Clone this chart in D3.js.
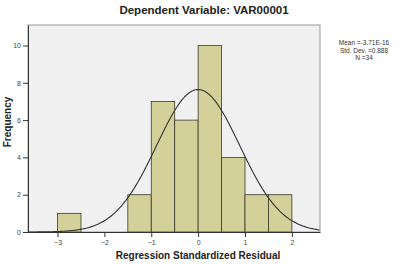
<!DOCTYPE html>
<html>
<head>
<meta charset="utf-8">
<script src="https://d3js.org/d3.v7.min.js"></script>
<style>
  body { margin: 0; background: #fff; }
  text { font-family: "Liberation Sans", Arial, sans-serif; }
</style>
</head>
<body>
<div id="chart"></div>
<script>
// histogram bins (lower edge) and counts
const binStarts = [-3, -2.5, -2, -1.5, -1, -0.5, 0, 0.5, 1, 1.5];
const counts = [1, 0, 0, 2, 7, 6, 10, 4, 2, 2];
const binWidth = 0.5;
const xTicks = [-3, -2, -1, 0, 1, 2];
const yTicks = [0, 2, 4, 6, 8, 10];
const statLines = ["Mean =-3.71E-16", "Std. Dev. =0.888", "N =34"];
const mean = -3.71e-16, sd = 0.888, n = 34;

const width = 408, height = 264;
const plot = { left: 28, right: 320, top: 25, bottom: 232 };

const svg = d3.select("#chart")
    .append("svg")
    .attr("width", width)
    .attr("height", height);

const x = d3.scaleLinear([-3.63, 2.6], [plot.left, plot.right]);
const y = d3.scaleLinear([0, 11.1], [plot.bottom, plot.top]);

svg.append("text")
    .attr("x", 204).attr("y", 14)
    .attr("text-anchor", "middle")
    .attr("font-size", 11.5).attr("font-weight", "bold")
    .attr("fill", "#222")
    .text("Dependent Variable: VAR00001");

svg.append("rect")
    .attr("x", plot.left).attr("y", plot.top)
    .attr("width", plot.right - plot.left)
    .attr("height", plot.bottom - plot.top)
    .attr("fill", "#f0f0f0")
    .attr("stroke", "#9a9a9a")
    .attr("stroke-width", 1);

svg.append("g")
    .selectAll("rect")
    .data(binStarts.map((b, i) => ({ b, c: counts[i] })).filter(d => d.c > 0))
    .join("rect")
    .attr("x", d => x(d.b))
    .attr("y", d => y(d.c))
    .attr("width", d => x(d.b + binWidth) - x(d.b))
    .attr("height", d => y(0) - y(d.c))
    .attr("fill", "#d4d09a")
    .attr("stroke", "#3a3a2a")
    .attr("stroke-width", 0.8);

// normal curve from the reported mean / sd / N
const xs = d3.range(x.domain()[0], x.domain()[1] + 0.001, 0.02);
const dens = v => n * binWidth / (sd * Math.sqrt(2 * Math.PI)) * Math.exp(-0.5 * ((v - mean) / sd) ** 2);
svg.append("path")
    .datum(xs)
    .attr("fill", "none")
    .attr("stroke", "#333")
    .attr("stroke-width", 1.1)
    .attr("d", d3.line().x(d => x(d)).y(d => y(dens(d))));

const xAxis = svg.append("g")
    .attr("transform", `translate(0,${plot.bottom})`)
    .call(d3.axisBottom(x).tickValues(xTicks).tickFormat(d3.format("d"))
        .tickSize(5).tickSizeOuter(0).tickPadding(3));
xAxis.select(".domain").attr("stroke", "#333");
xAxis.selectAll("line").attr("stroke", "#333");
xAxis.selectAll("text").attr("font-size", 7).attr("fill", "#444");

const yAxis = svg.append("g")
    .attr("transform", `translate(${plot.left},0)`)
    .call(d3.axisLeft(y).tickValues(yTicks).tickFormat(d3.format("d"))
        .tickSize(5).tickSizeOuter(0).tickPadding(2));
yAxis.select(".domain").attr("stroke", "#333");
yAxis.selectAll("line").attr("stroke", "#333");
yAxis.selectAll("text").attr("font-size", 7).attr("fill", "#444");

svg.append("text")
    .attr("x", 198).attr("y", 259)
    .attr("text-anchor", "middle")
    .attr("font-size", 10).attr("font-weight", "bold")
    .attr("fill", "#222")
    .text("Regression Standardized Residual");

svg.append("text")
    .attr("transform", "translate(11,122) rotate(-90)")
    .attr("text-anchor", "middle")
    .attr("font-size", 10).attr("font-weight", "bold")
    .attr("fill", "#222")
    .text("Frequency");

svg.append("g")
    .selectAll("text")
    .data(statLines)
    .join("text")
    .attr("x", 364)
    .attr("y", (d, i) => 45 + i * 7.5)
    .attr("text-anchor", "middle")
    .attr("font-size", 6.5)
    .attr("fill", "#333")
    .text(d => d);
</script>
</body>
</html>
